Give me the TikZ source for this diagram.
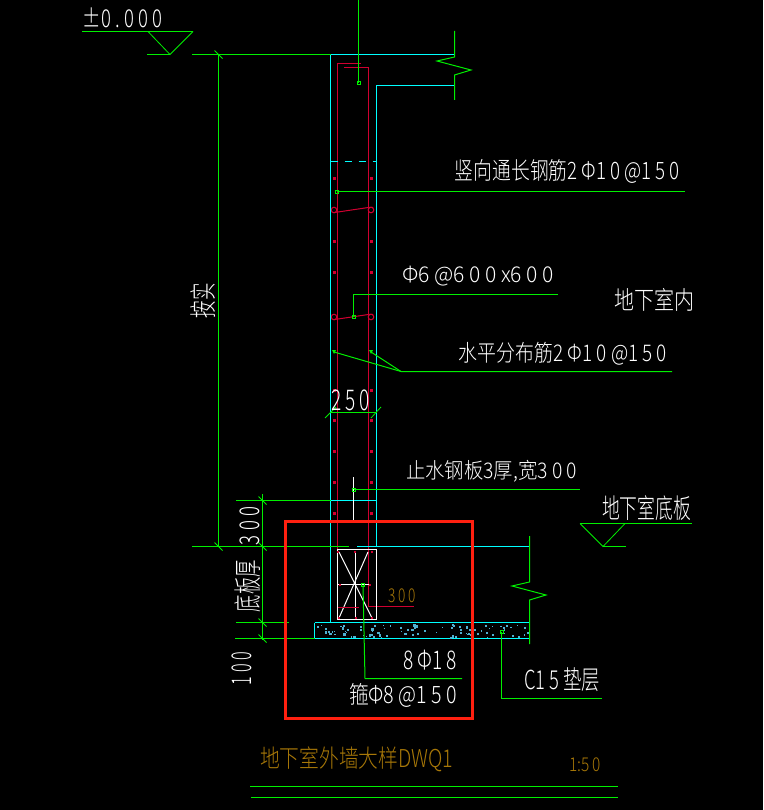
\documentclass[tikz,border=0pt]{standalone}
\usepackage{fontspec}
\usepackage{graphicx}
\setmainfont{Noto Sans CJK SC}[UprightFont=* Light]
\definecolor{gr}{HTML}{00F000}
\definecolor{cy}{HTML}{00FFFF}
\definecolor{rd}{HTML}{D00030}
\definecolor{hl}{HTML}{FF2010}
\definecolor{og}{HTML}{A87808}
\definecolor{sp}{HTML}{50B0D0}
\tikzset{
  gl/.style={draw=gr,line width=1pt},
  cl/.style={draw=cy,line width=1pt},
  rl/.style={draw=rd,line width=1pt},
  wl/.style={draw=white,line width=1pt},
  tk/.style={draw=gr,line width=0.8pt},
  lab/.style={inner sep=0pt,text=white}
}
\newcommand{\lb}[6]{\pgfmathsetmacro{\cw}{#3-#1}\pgfmathsetmacro{\ch}{#4-#2}%
  \node[lab,text=#5] at ({(#1+#3)/2},{(#2+#4)/2}) {\resizebox*{\cw pt}{\ch pt}{#6}};}
\newcommand{\lr}[6]{\pgfmathsetmacro{\cw}{#4-#2}\pgfmathsetmacro{\ch}{#3-#1}%
  \node[lab,text=#5,rotate=90] at ({(#1+#3)/2},{(#2+#4)/2}) {\resizebox*{\cw pt}{\ch pt}{#6}};}
\newcommand{\gp}{\hspace{0.22em}}
\newcommand{\bk}[1]{\draw[tk] (#1) ++(-4,-4) -- ++(8,8);}
\newcommand{\mk}[1]{\draw[gl,line width=0.9pt] (#1) ++(-1.5,-1.5) rectangle ++(3,3);}
\newcommand{\tie}[1]{%
  \draw[rl] (334,#1) circle (2.8);\draw[rl] (371,#1) circle (2.8);
  \draw[rl] (334,#1+2.6) -- (369,#1-2.6) -- (373,#1-2.6);}
\begin{document}
\begin{tikzpicture}[x=1pt,y=-1pt]
\useasboundingbox (0,0) rectangle (763,810);
\fill[black] (0,0) rectangle (763,810);
% wall reinforcement
\draw[rl] (361,63.5) -- (337.5,63.5) -- (337.5,617);
\draw[rl] (344,67.5) -- (368.5,67.5) -- (368.5,606.5) -- (414,606.5);
\foreach \yy in {179,241,272,390,420,451,482,513}{
  \fill[rd] (334,\yy) ++(-1.5,-1.5) rectangle ++(3,3);
  \fill[rd] (371,\yy) ++(-1.5,-1.5) rectangle ++(3,3);}
\tie{210}\tie{317}
% concrete outline
\draw[cl] (330.5,54.5) -- (330.5,622.5);
\draw[cl] (330.5,54.5) -- (454.5,54.5);
\draw[cl] (454.5,85.5) -- (376.5,85.5) -- (376.5,546.5);
\draw[cl,dash pattern=on 7pt off 7pt] (330.5,161.5) -- (376.5,161.5);
\draw[cl] (330.5,500.5) -- (376.5,500.5);
\draw[cl] (357,546.5) -- (529.5,546.5);
% blinding layer
\draw[cl] (314.5,622.5) -- (529.5,622.5);
\draw[cl] (314.5,622.5) -- (314.5,638.5) -- (529.5,638.5);
\pgfmathsetseed{7}
\foreach \i in {1,...,90}{
  \pgfmathsetmacro{\px}{317+rnd*210}\pgfmathsetmacro{\py}{624+rnd*13}
  \pgfmathsetmacro{\ps}{1+rnd*1.6}
  \fill[sp] (\px,\py) rectangle ++(\ps,\ps);}
% break lines
\draw[gl] (454.5,31) -- (454.5,57) -- (437,61) -- (471,70) -- (454.5,75) -- (454.5,100);
\draw[gl] (529.5,536) -- (529.5,582) -- (512,586) -- (546,595) -- (529.5,600) -- (529.5,644);
% beam
\draw[wl] (337.5,549.5) rectangle (376.5,619.5);
\draw[wl] (355.5,552) -- (355.5,618);
\draw[wl] (338,584.5) -- (370,584.5);
\draw[wl] (339,552) -- (372,618);
\draw[wl] (368,552) -- (339,618);
\draw[rl] (338,607.5) -- (359,607.5);
\foreach \px/\py in {338/552,355/552,372/552,339/618,356/618,372/618,340/585,370/585}{
  \fill[rd] (\px,\py) ++(-1.3,-1.3) rectangle ++(2.6,2.6);}
\draw[wl] (353.5,477) -- (353.5,520);
% leaders
\draw[gl] (358.5,0) -- (358.5,83);\mk{358.5,83}
\draw[gl] (337,191.5) -- (685,191.5);\mk{337,191.5}
\draw[gl] (353.5,317) -- (353.5,294.5) -- (558,294.5);\mk{353.5,317}
\draw[gl] (334,352) -- (401,371.5) -- (672,371.5);
\draw[gl] (371,352) -- (401,371.5);
\fill[gr] (332,350) -- (336,350) -- (334,354) -- cycle;
\fill[gr] (369,350) -- (373,350) -- (371,354) -- cycle;
\draw[gl] (353.5,489.5) -- (580,489.5);\mk{353.5,489.5}
\draw[gl] (363,585) -- (365,678.5) -- (462,678.5);\mk{363,585}
\draw[gl] (501.5,632) -- (501.5,698.5) -- (602,698.5);\mk{501.5,632}
% dimensions
\draw[gl] (192,54.5) -- (330.5,54.5);
\draw[gl] (192,546.5) -- (349,546.5);
\draw[gl] (218.5,54.5) -- (218.5,546.5);
\bk{218.5,54.5}\bk{218.5,546.5}
\draw[gl] (236,500.5) -- (330.5,500.5);
\draw[gl] (236,622.5) -- (289,622.5);
\draw[gl] (235,638.5) -- (314.5,638.5);
\draw[gl] (262.5,494) -- (262.5,640);
\bk{262.5,500.5}\bk{262.5,546.5}\bk{262.5,622.5}\bk{262.5,638.5}
\draw[gl] (330.5,412.5) -- (376.5,412.5);
\draw[tk] (325,418) -- (336,407);
\draw[tk] (371,418) -- (381,407);
% level marks
\draw[gl] (82,31.5) -- (193,31.5);
\draw[tk] (148,31.5) -- (170,54.5) -- (193,31.5);
\draw[gl] (147,54.5) -- (170,54.5);
\draw[gl] (580,523.5) -- (692,523.5);
\draw[tk] (580,523.5) -- (603,546.5) -- (625,523.5);
\draw[gl] (603,546.5) -- (626,546.5);
% title rules
\draw[gl] (250,786.5) -- (618,786.5);
\draw[gl] (251,797.5) -- (618,797.5);
% highlight
\draw[draw=hl,line width=3pt] (285,521.5) rectangle (472,718);
% labels
\lb{83}{8}{162}{28}{white}{±0\gp.\gp0\gp0\gp0}
\lb{455}{159}{680}{183}{white}{竖向通长钢筋2\ Φ1\gp0\ @1\gp5\gp0}
\lb{402}{266}{554}{286}{white}{Φ6\ @6\gp0\gp0\ x6\gp0\gp0}
\lb{614}{288}{694}{311}{white}{地下室内}
\lb{459}{342}{667}{365}{white}{水平分布筋2\ Φ1\gp0\ @1\gp5\gp0}
\lb{331}{390}{370}{411}{white}{2\gp5\gp0}
\lb{406}{460}{577}{482}{white}{止水钢板3厚,宽3\gp0\gp0}
\lb{602}{496}{691}{521}{white}{地下室底板}
\lb{388}{589}{416}{603}{og}{3\gp0\gp0}
\lb{403}{650}{457}{670}{white}{8\ Φ1\gp8}
\lb{349}{683}{457}{707}{white}{箍Φ8\ @1\gp5\gp0}
\lb{524}{668}{600}{692}{white}{C1\gp5\ 垫层}
\lb{260}{747}{453}{772}{og}{地下室外墙大样DWQ1}
\lb{569}{758}{601}{772}{og}{1:5\gp0}
\lr{191}{283}{216}{318}{white}{按实}
\lr{240}{507}{260}{545}{white}{3\gp0\gp0}
\lr{235}{560}{261}{612}{white}{底板厚}
\lr{232}{652}{252}{685}{white}{1\gp0\gp0}
\end{tikzpicture}
\end{document}
